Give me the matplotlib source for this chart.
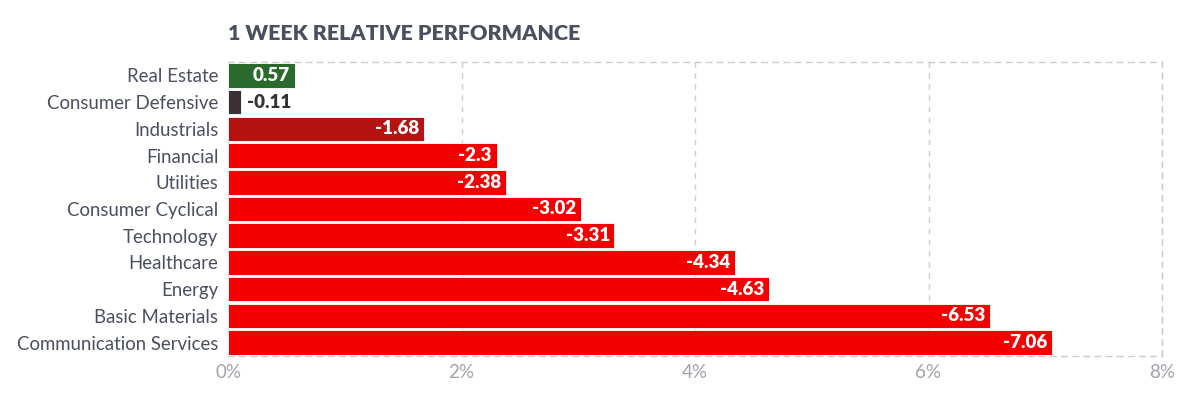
import matplotlib.pyplot as plt
import numpy as np

sectors = ["Real Estate", "Consumer Defensive", "Industrials", "Financial", "Utilities",
           "Consumer Cyclical", "Technology", "Healthcare", "Energy", "Basic Materials",
           "Communication Services"]
perf = [0.57, -0.11, -1.68, -2.3, -2.38, -3.02, -3.31, -4.34, -4.63, -6.53, -7.06]
colors = ["#2a6a2c", "#3b3133", "#b51212", "#f50000", "#f50000", "#f50000", "#f50000",
          "#f50000", "#f50000", "#f50000", "#f50000"]
xticks = [0, 2, 4, 6, 8]

plt.rcParams['font.family'] = ['Lato', 'DejaVu Sans']

fig = plt.figure(figsize=(12, 3.98), dpi=100)
ax = fig.add_axes([228 / 1200, 1 - 356 / 398, (1162 - 228) / 1200, (356 - 62) / 398])

y = np.arange(len(sectors))
widths = np.abs(perf)
ax.barh(y, widths, height=0.92, color=colors, edgecolor="white", linewidth=0.6, zorder=3)

for i, (v, w) in enumerate(zip(perf, widths)):
    txt = str(v)
    if w < 0.4:
        ax.text(w + 0.05, i, txt, ha="left", va="center", color="#333333",
                fontsize=13.5, fontweight="heavy", zorder=4)
    else:
        ax.text(w - 0.04, i, txt, ha="right", va="center", color="white",
                fontsize=13.5, fontweight="heavy", zorder=4)

ax.set_xlim(0, 8)
ax.set_ylim(len(sectors) - 0.5, -0.5)
ax.set_yticks(y, sectors)
ax.set_xticks(xticks, [f"{t}%" for t in xticks])
ax.tick_params(axis="y", length=0, pad=7, labelsize=13.4, labelcolor="#4a5060")
ax.tick_params(axis="x", length=0, pad=6, labelsize=13.5, labelcolor="#a0a4ad")
ax.grid(axis="x", color="#cccccc", linestyle=(0, (4, 4)), linewidth=1, zorder=0)
for s in ax.spines.values():
    s.set_color("#cccccc")
    s.set_linestyle((0, (4, 4)))
    s.set_linewidth(1)
ax.spines["left"].set_visible(False)

fig.text(228 / 1200, 1 - 33 / 398, "1 WEEK RELATIVE PERFORMANCE", ha="left", va="center",
         fontsize=15.4, fontweight="heavy", color="#4a5060")

fig.savefig("out.png", dpi=100)
